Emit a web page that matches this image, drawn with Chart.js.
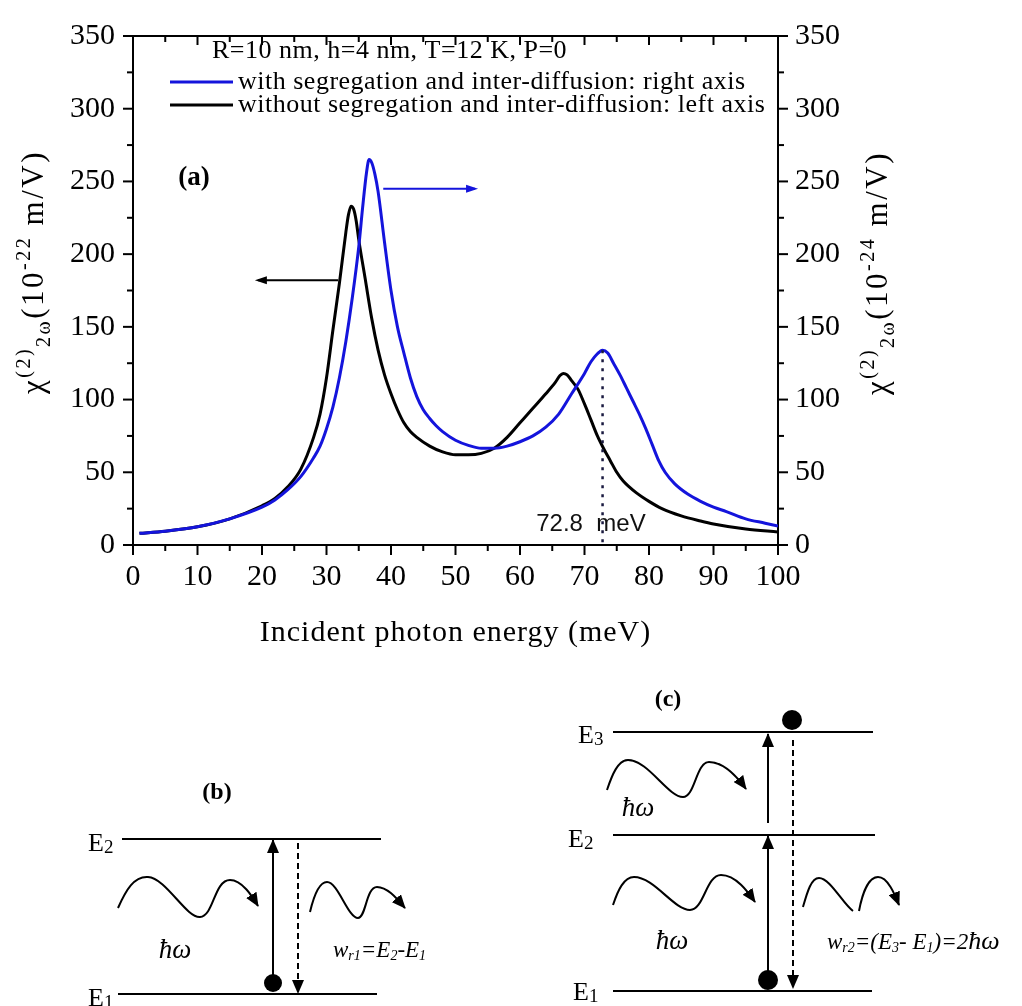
<!DOCTYPE html>
<html>
<head>
<meta charset="utf-8">
<script src="https://cdn.jsdelivr.net/npm/chart.js@4.4.1/dist/chart.umd.min.js"></script>
<style>
  html, body { margin: 0; padding: 0; background: #fff; }
  #wrap { position: relative; width: 1022px; height: 1006px; overflow: hidden; }
  #chart { position: absolute; left: 0; top: 0; }
  #diag { position: absolute; left: 0; top: 0; }
  #diag text { font-family: "Liberation Serif", "Times New Roman", serif; fill: #000; }
</style>
</head>
<body>
<div id="wrap">
  <canvas id="chart" width="1022" height="660"></canvas>

  <!-- (b) и (c): схемы уровней, не данные -->
  <svg id="diag" width="1022" height="1006">
    <defs>
      <marker id="ah" markerWidth="14" markerHeight="12" refX="13" refY="6" orient="auto" markerUnits="userSpaceOnUse">
        <path d="M0,0 L14,6 L0,12 z" fill="#000"/>
      </marker>
    </defs>
    <g stroke="#000" stroke-width="2" fill="none">
      <!-- (b) -->
      <line x1="122" y1="839" x2="381" y2="839"/>
      <line x1="118" y1="994" x2="377" y2="994"/>
      <line x1="273" y1="983" x2="273" y2="840" marker-end="url(#ah)"/>
      <line x1="298" y1="843" x2="298" y2="993" stroke-dasharray="6,4" marker-end="url(#ah)"/>
      <path d="M118 908 C126 890,134 876,148 877 C166 878,186 918,200 917 C214 916,214 880,230 880 C242 880,252 896,258 906" marker-end="url(#ah)"/>
      <path d="M310 912 C314 895,319 882,327 882 C338 882,348 918,358 918 C366 918,366 887,377 887 C388 887,398 900,405 908" marker-end="url(#ah)"/>
      <!-- (c) -->
      <line x1="613" y1="732" x2="873" y2="732"/>
      <line x1="613" y1="835" x2="875" y2="835"/>
      <line x1="613" y1="991" x2="872" y2="991"/>
      <line x1="768" y1="972" x2="768" y2="836" marker-end="url(#ah)"/>
      <line x1="768" y1="823" x2="768" y2="734" marker-end="url(#ah)"/>
      <line x1="793" y1="740" x2="793" y2="988" stroke-dasharray="6,4" marker-end="url(#ah)"/>
      <path d="M607 790 C612 775,618 760,628 760 C648 760,668 797,683 797 C695 797,696 762,709 762 C724 762,738 778,746 789" marker-end="url(#ah)"/>
      <path d="M613 905 C618 890,624 877,634 877 C654 877,674 910,690 910 C704 910,706 875,721 875 C736 875,748 892,755 902" marker-end="url(#ah)"/>
      <path d="M803 907 C807 893,811 878,819 878 C830 878,843 904,853 911 M859 911 C862 895,868 877,878 877 C888 877,895 895,899 905" marker-end="url(#ah)"/>
    </g>
    <circle cx="273" cy="983" r="9" fill="#000"/>
    <circle cx="792" cy="720" r="10" fill="#000"/>
    <circle cx="768" cy="980" r="10" fill="#000"/>

    <text x="217" y="799" font-size="24" font-weight="bold" text-anchor="middle">(b)</text>
    <text x="88" y="851" font-size="26">E<tspan font-size="19" dy="2">2</tspan></text>
    <text x="88" y="1006" font-size="26">E<tspan font-size="19" dy="2">1</tspan></text>
    <text x="175" y="958" font-size="27" font-style="italic" text-anchor="middle">ħω</text>
    <text x="333" y="957" font-size="23" font-style="italic" fill="#223">w<tspan font-size="14" dy="3">r1</tspan><tspan dy="-3">=E</tspan><tspan font-size="14" dy="3">2</tspan><tspan dy="-3">-E</tspan><tspan font-size="14" dy="3">1</tspan></text>

    <text x="668" y="706" font-size="24" font-weight="bold" text-anchor="middle">(c)</text>
    <text x="578" y="743" font-size="26">E<tspan font-size="19" dy="2">3</tspan></text>
    <text x="568" y="847" font-size="26">E<tspan font-size="19" dy="2">2</tspan></text>
    <text x="573" y="1000" font-size="26">E<tspan font-size="19" dy="2">1</tspan></text>
    <text x="638" y="816" font-size="27" font-style="italic" text-anchor="middle">ħω</text>
    <text x="672" y="949" font-size="27" font-style="italic" text-anchor="middle">ħω</text>
    <text x="827" y="949" font-size="23" font-style="italic" fill="#223">w<tspan font-size="14" dy="3">r2</tspan><tspan dy="-3">=(E</tspan><tspan font-size="14" dy="3">3</tspan><tspan dy="-3">- E</tspan><tspan font-size="14" dy="3">1</tspan><tspan dy="-3">)=2</tspan><tspan font-size="26">ħω</tspan></text>
  </svg>
</div>

<script>
// ─── ДАННЫЕ ──────────────────────────────────────────────────────────────────
// без сегрегации и интердиффузии — левая ось (10^-22 m/V)
const energyWithout = [1, 5, 10, 15, 20, 22, 24, 26, 28, 29, 30, 31, 32, 33, 33.4, 33.8, 34.2, 34.6, 35, 36, 37, 38,
  39, 40, 41, 42, 43, 44, 46, 48, 50, 52, 54, 56, 58, 60, 62, 64, 65.5, 66.2, 66.7, 67.3, 68, 69,
  70, 71, 72, 73, 74, 75, 76, 78, 80, 82, 85, 88, 90, 95, 100];
const chiWithout = [8, 9.5, 12.5, 18, 27, 32, 40, 52, 74, 90, 115, 148, 180, 215, 227, 233, 231, 223, 210, 183, 156, 134,
  117, 104, 93, 84, 78, 74, 68, 64, 62, 62, 63, 66.5, 74, 84, 94, 104, 112, 116.5, 118, 117, 113, 107,
  97, 86, 75, 66, 58, 50, 44, 36, 30, 25, 20, 16.5, 14.5, 11, 9];

// с сегрегацией и интердиффузией — правая ось (10^-24 m/V)
const energyWith = [1, 5, 10, 15, 20, 22, 24, 26, 28, 29, 30, 31, 32, 33, 34, 35, 35.6, 36.2, 36.6, 37, 37.5, 38,
  39, 40, 41, 42, 43, 44, 45, 46, 47, 48, 50, 52, 54, 56, 58, 60, 62, 64, 66, 68,
  70, 71, 72, 72.8, 73.6, 74.5, 75.5, 76.5, 77.5, 78.5, 79.5, 80.5, 81.5, 82.5, 84, 86, 88, 90, 92, 95, 98, 100];
const chiWith = [8, 9.5, 12.5, 18, 26, 31, 38, 47, 60, 68, 80, 95, 115, 140, 170, 205, 232, 256, 265, 263, 255, 243,
  208, 175, 150, 132, 115, 102, 93, 87, 82, 78, 72, 68.5, 66.5, 66.5, 68, 71, 75, 81, 90, 104,
  118, 126, 131.5, 134, 132, 125, 117, 108, 99, 90, 80, 69, 58, 50, 42, 35, 30, 26, 23, 18, 15, 13];

const xTicks = [0, 10, 20, 30, 40, 50, 60, 70, 80, 90, 100];
const yTicks = [0, 50, 100, 150, 200, 250, 300, 350];

const peakEnergy = 72.8;
const peakChi = 134;

const SERIF = '"Liberation Serif", "Times New Roman", serif';
const BLUE = '#1414dc';

// ─── ВСПОМОГАТЕЛЬНОЕ ─────────────────────────────────────────────────────────
function seg(ctx, x1, y1, x2, y2) {
  ctx.beginPath(); ctx.moveTo(x1, y1); ctx.lineTo(x2, y2); ctx.stroke();
}

function arrowHead(ctx, x, y, dir, color) {
  ctx.fillStyle = color;
  ctx.beginPath();
  ctx.moveTo(x, y);
  ctx.lineTo(x - dir * 12, y - 4);
  ctx.lineTo(x - dir * 12, y + 4);
  ctx.closePath(); ctx.fill();
}

// текст с индексами, повёрнутый вокруг центра
function richText(ctx, parts, cx, cy, angle) {
  ctx.save();
  ctx.translate(cx, cy); ctx.rotate(angle);
  ctx.textAlign = 'left'; ctx.textBaseline = 'alphabetic'; ctx.fillStyle = '#000';
  ctx.letterSpacing = '2.5px';
  let total = 0;
  parts.forEach(p => { ctx.font = p.font; p.w = ctx.measureText(p.t).width; total += p.w; });
  let xx = -total / 2;
  parts.forEach(p => { ctx.font = p.font; ctx.fillText(p.t, xx, p.dy); xx += p.w; });
  ctx.restore();
}

function axisLabel(exp) {
  const B = `31px ${SERIF}`, s = `20px ${SERIF}`;
  return [
    { t: 'χ', font: B, dy: 10 },
    { t: '(2)', font: s, dy: -3 },
    { t: '2ω', font: s, dy: 17 },
    { t: '(10', font: B, dy: 10 },
    { t: exp, font: s, dy: -3 },
    { t: ' m/V)', font: B, dy: 10 }
  ];
}

// ─── ПЛАГИН: рамка, засечки, подписи, стрелки ───────────────────────────────
const overlay = {
  id: 'overlay',
  afterDatasetsDraw(chart) {
    const { ctx, chartArea: a, scales: { x, y, y2 } } = chart;
    ctx.save();

    // пунктир на 72.8 meV
    ctx.strokeStyle = '#1a1a40'; ctx.lineWidth = 2.5; ctx.setLineDash([3, 6]);
    seg(ctx, x.getPixelForValue(peakEnergy), y2.getPixelForValue(peakChi), x.getPixelForValue(peakEnergy), a.bottom);
    ctx.setLineDash([]);
    ctx.fillStyle = '#111'; ctx.font = '24px "Liberation Sans", Arial, sans-serif';
    ctx.textAlign = 'center'; ctx.textBaseline = 'middle';
    ctx.fillText('72.8  meV', x.getPixelForValue(71), y.getPixelForValue(14));

    // стрелка к левой оси
    const ay = y.getPixelForValue(182);
    ctx.strokeStyle = '#000'; ctx.lineWidth = 2;
    seg(ctx, x.getPixelForValue(31.8), ay, x.getPixelForValue(19.4), ay);
    arrowHead(ctx, x.getPixelForValue(18.9), ay, -1, '#000');
    // стрелка к правой оси
    const by = y2.getPixelForValue(245);
    ctx.strokeStyle = BLUE;
    seg(ctx, x.getPixelForValue(38.8), by, x.getPixelForValue(53), by);
    arrowHead(ctx, x.getPixelForValue(53.5), by, 1, BLUE);

    // легенда
    ctx.textAlign = 'left'; ctx.textBaseline = 'middle'; ctx.fillStyle = '#000';
    ctx.font = `26px ${SERIF}`;
    ctx.letterSpacing = '0.5px';
    ctx.fillText('R=10 nm, h=4 nm, T=12 K, P=0', 212, 51);
    chart.data.datasets.forEach((ds, i) => {
      const ly = 82 + i * 23;
      ctx.strokeStyle = ds.borderColor; ctx.lineWidth = 3;
      seg(ctx, 170, ly, 233, ly);
      ctx.fillStyle = '#000';
      ctx.fillText(ds.label, 238, ly);
    });
    ctx.letterSpacing = '0px';

    ctx.font = `bold 27px ${SERIF}`; ctx.textAlign = 'center';
    ctx.fillText('(a)', 194, 178);
    ctx.restore();
  },
  afterDraw(chart) {
    const { ctx, chartArea: a, scales: { x, y, y2 } } = chart;
    ctx.save();
    ctx.strokeStyle = '#000'; ctx.lineWidth = 2;
    seg(ctx, a.left - 1, a.top, a.right + 1, a.top);
    for (let v = 0; v <= 350; v += 25) {
      const len = v % 50 === 0 ? 10 : 6;
      seg(ctx, a.left - len, y.getPixelForValue(v), a.left, y.getPixelForValue(v));
      seg(ctx, a.right, y2.getPixelForValue(v), a.right + len, y2.getPixelForValue(v));
    }
    for (let v = 0; v <= 100; v += 5) {
      const px = x.getPixelForValue(v), major = v % 10 === 0;
      seg(ctx, px, a.bottom, px, a.bottom + (major ? 10 : 6));
      seg(ctx, px, a.top, px, a.top + (major ? 9 : 6));
    }

    // подписи осей
    ctx.fillStyle = '#000'; ctx.font = `30px ${SERIF}`;
    ctx.letterSpacing = '1px';
    ctx.textAlign = 'center'; ctx.textBaseline = 'middle';
    ctx.fillText('Incident photon energy (meV)', (a.left + a.right) / 2, 633);
    ctx.letterSpacing = '0px';
    richText(ctx, axisLabel('-22'), 33, 272, -Math.PI / 2);
    richText(ctx, axisLabel('-24'), 877, 273, -Math.PI / 2);
    ctx.restore();
  }
};

// ─── ГРАФИК ──────────────────────────────────────────────────────────────────
const tickFont = { family: SERIF, size: 30 };

new Chart(document.getElementById('chart'), {
  type: 'line',
  data: {
    datasets: [
      {
        label: 'with segregation and inter-diffusion: right axis',
        data: energyWith.map((e, i) => ({ x: e, y: chiWith[i] })),
        yAxisID: 'y2', borderColor: BLUE, borderWidth: 3, pointRadius: 0,
        cubicInterpolationMode: 'monotone'
      },
      {
        label: 'without segregation and inter-diffusion: left axis',
        data: energyWithout.map((e, i) => ({ x: e, y: chiWithout[i] })),
        yAxisID: 'y', borderColor: '#000', borderWidth: 3, pointRadius: 0,
        cubicInterpolationMode: 'monotone'
      }
    ]
  },
  options: {
    responsive: false, animation: false, devicePixelRatio: 1,
    layout: { padding: { top: 26, left: 0, right: 0, bottom: 0 } },
    plugins: { legend: { display: false }, tooltip: { enabled: false } },
    scales: {
      x: {
        type: 'linear', min: 0, max: 100,
        afterBuildTicks: s => { s.ticks = xTicks.map(v => ({ value: v })); },
        afterFit: s => { s.height = 115; },
        grid: { display: false, drawTicks: false },
        border: { display: true, color: '#000', width: 2 },
        ticks: { font: tickFont, color: '#000', padding: 14, maxRotation: 0 }
      },
      y: {
        position: 'left', min: 0, max: 350,
        afterBuildTicks: s => { s.ticks = yTicks.map(v => ({ value: v })); },
        afterFit: s => { s.width = 133; },
        grid: { display: false, drawTicks: false },
        border: { display: true, color: '#000', width: 2 },
        ticks: { font: tickFont, color: '#000', padding: 18 }
      },
      y2: {
        position: 'right', min: 0, max: 350,
        afterBuildTicks: s => { s.ticks = yTicks.map(v => ({ value: v })); },
        afterFit: s => { s.width = 244; },
        grid: { display: false, drawTicks: false },
        border: { display: true, color: '#000', width: 2 },
        ticks: { font: tickFont, color: '#000', padding: 17 }
      }
    }
  },
  plugins: [overlay]
});
</script>
</body>
</html>
